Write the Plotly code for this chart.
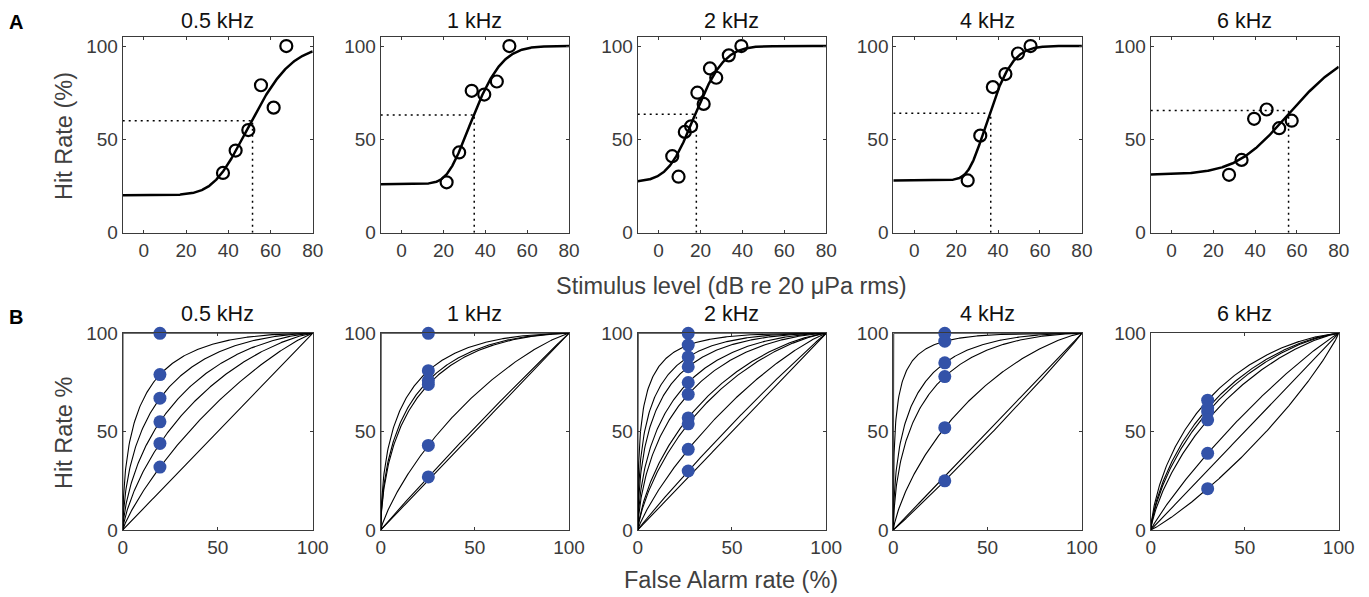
import numpy as np
import plotly.graph_objects as go
from statistics import NormalDist

ND = NormalDist()

W, H = 1369, 597
OFF = 8  # page body offset of the rendered figure

freq_labels = ["0.5 kHz", "1 kHz", "2 kHz", "4 kHz", "6 kHz"]

# ---------- Panel A: psychometric data (stimulus level dB, hit rate %) ----------
levels_05 = [37.5, 43.5, 49.5, 55.5, 61.5, 67.5]
hits_05 = [32, 44, 55, 79, 67, 100]
levels_1 = [21.5, 27.5, 33.5, 39.5, 45.5, 51.5]
hits_1 = [27, 43, 76, 74, 81, 100]
levels_2 = [6.5, 9.5, 12.5, 15.5, 18.5, 21.5, 24.5, 27.5, 33.5, 39.5]
hits_2 = [41, 30, 54, 57, 75, 69, 88, 83, 95, 100]
levels_4 = [25.5, 31.5, 37.5, 43.5, 49.5, 55.5]
hits_4 = [28, 52, 78, 85, 96, 100]
levels_6 = [27.5, 33.5, 39.5, 45.5, 51.5, 57.5]
hits_6 = [31, 39, 61, 66, 56, 60]

# fitted curve parameters
floor_pct = [20, 26, 27, 28, 31]          # false-alarm floor
dprime_slope = [0.057, 0.075, 0.08, 0.092, 0.038]
dprime_onset = [32, 21.5, 6, 25.8, 35]
onset_width = [5, 3, 5, 2.5, 10]
threshold_level = [51.5, 34.7, 18, 36.5, 56]
threshold_hit = [60, 63, 63.5, 64, 65.5]

# ---------- Panel B: ROC data ----------
fa_rates = [19.6, 25.3, 26.8, 27.3, 30.3]
roc_hits_05 = [100, 79, 67, 55, 44, 32]
roc_hits_1 = [100, 81, 76, 74, 43, 27]
roc_hits_2 = [100, 94, 88, 83, 75, 69, 57, 54, 41, 30]
roc_hits_4 = [100, 96, 85, 78, 52, 25]
roc_hits_6 = [66, 62, 60, 56, 39, 21]

levels_all = [levels_05, levels_1, levels_2, levels_4, levels_6]
hits_all = [hits_05, hits_1, hits_2, hits_4, hits_6]
roc_all = [roc_hits_05, roc_hits_1, roc_hits_2, roc_hits_4, roc_hits_6]

# ---------- layout geometry (pixels in the target picture) ----------
col_px = [(122.7, 312.7), (380.7, 569.0), (637.7, 826.2), (893.3, 1081.9), (1150.7, 1338.7)]
top_px = (36.7, 232.7)
bot_px = (333.3, 530.0)


def fx(x):
    return (x - OFF) / W


def fy(y):
    return 1 - (y - OFF) / H


cdf = np.vectorize(ND.cdf)
inv = np.vectorize(ND.inv_cdf)

AX = "#3a3a3a"
FONT = "Liberation Sans, Arial, Helvetica, sans-serif"

fig = go.Figure()
layout = dict(
    width=W, height=H,
    margin=dict(l=0, r=0, t=0, b=0, autoexpand=False),
    paper_bgcolor="white", plot_bgcolor="white",
    showlegend=False,
    font=dict(family=FONT, color=AX),
)


def axis_common():
    return dict(
        showline=True, mirror="ticks", linecolor=AX, linewidth=1,
        ticks="inside", ticklen=3, tickcolor=AX, tickwidth=1,
        showgrid=False, zeroline=False, automargin=False,
        tickfont=dict(family=FONT, size=19, color=AX),
        fixedrange=True,
    )


annotations = []

for i in range(5):
    # ---- top row ----
    n = i + 1
    xa = f"xaxis{n}" if n > 1 else "xaxis"
    ya = f"yaxis{n}" if n > 1 else "yaxis"
    xr = f"x{n}" if n > 1 else "x"
    yr = f"y{n}" if n > 1 else "y"
    layout[xa] = dict(axis_common(), domain=[fx(col_px[i][0]), fx(col_px[i][1])],
                      range=[-10, 80], tickvals=[0, 20, 40, 60, 80], anchor=yr)
    layout[ya] = dict(axis_common(), domain=[fy(top_px[1]), fy(top_px[0])],
                      range=[0, 105], tickvals=[0, 50, 100], anchor=xr)

    xs = np.linspace(-10, 80, 400)
    zfa = ND.inv_cdf(floor_pct[i] / 100)
    s = onset_width[i]
    d = dprime_slope[i] * s * np.logaddexp(0, (xs - dprime_onset[i]) / s)
    curve = 100 * cdf(zfa + d)

    tx, ty = threshold_level[i], threshold_hit[i]
    fig.add_trace(go.Scatter(x=[-10, tx], y=[ty, ty], xaxis=xr, yaxis=yr, mode="lines",
                             line=dict(color="black", width=1.5, dash="2px,4px"), hoverinfo="skip"))
    fig.add_trace(go.Scatter(x=[tx, tx], y=[0, ty], xaxis=xr, yaxis=yr, mode="lines",
                             line=dict(color="black", width=1.5, dash="2px,4px"), hoverinfo="skip"))
    fig.add_trace(go.Scatter(x=xs, y=curve, xaxis=xr, yaxis=yr, mode="lines",
                             line=dict(color="black", width=2.5), hoverinfo="skip"))
    fig.add_trace(go.Scatter(x=levels_all[i], y=hits_all[i], xaxis=xr, yaxis=yr, mode="markers",
                             cliponaxis=False,
                             marker=dict(symbol="circle-open", size=12, color="black",
                                         line=dict(width=2.2, color="black"))))

    annotations.append(dict(text=freq_labels[i], x=fx((col_px[i][0] + col_px[i][1]) / 2),
                            y=fy(21), xref="paper", yref="paper", showarrow=False,
                            xanchor="center", yanchor="middle", borderpad=0,
                            font=dict(family=FONT, size=21.5, color="#111111")))

    # ---- bottom row ----
    m = i + 6
    xa = f"xaxis{m}"
    ya = f"yaxis{m}"
    xr = f"x{m}"
    yr = f"y{m}"
    layout[xa] = dict(axis_common(), domain=[fx(col_px[i][0]), fx(col_px[i][1])],
                      range=[0, 100], tickvals=[0, 50, 100], anchor=yr)
    layout[ya] = dict(axis_common(), domain=[fy(bot_px[1]), fy(bot_px[0])],
                      range=[0, 100], tickvals=[0, 50, 100], anchor=xr)

    fa = fa_rates[i]
    zfa_b = ND.inv_cdf(fa / 100)
    F = np.concatenate([np.geomspace(1e-12, 0.02, 200), np.linspace(0.02, 0.999999, 300)])
    zF = inv(F)
    dps = [0.0]
    for h in roc_all[i]:
        hc = min(max(h, 0.01), 100 - 1e-8)
        dps.append(ND.inv_cdf(hc / 100) - zfa_b)
    for dp in dps:
        hv = 100 * cdf(dp + zF)
        xv = np.concatenate([[0], 100 * F, [100]])
        yv = np.concatenate([[0], hv, [100]])
        fig.add_trace(go.Scatter(x=xv, y=yv, xaxis=xr, yaxis=yr, mode="lines",
                                 line=dict(color="black", width=1.1), hoverinfo="skip"))
    fig.add_trace(go.Scatter(x=[fa] * len(roc_all[i]), y=roc_all[i], xaxis=xr, yaxis=yr,
                             mode="markers", cliponaxis=False,
                             marker=dict(symbol="circle", size=13, color="#3352a8",
                                         line=dict(width=0))))

    annotations.append(dict(text=freq_labels[i], x=fx((col_px[i][0] + col_px[i][1]) / 2),
                            y=fy(314), xref="paper", yref="paper", showarrow=False,
                            xanchor="center", yanchor="middle", borderpad=0,
                            font=dict(family=FONT, size=21.5, color="#111111")))

# axis titles and panel letters
annotations += [
    dict(text="Hit Rate (%)", x=fx(64), y=fy(136), textangle=-90),
    dict(text="Hit Rate %", x=fx(64), y=fy(433), textangle=-90),
    dict(text="Stimulus level (dB re 20 μPa rms)", x=fx(731), y=fy(286)),
    dict(text="False Alarm rate (%)", x=fx(731), y=fy(580)),
]
for a in annotations[-4:]:
    a.update(xref="paper", yref="paper", showarrow=False, xanchor="center", yanchor="middle",
             borderpad=0, font=dict(family=FONT, size=23.5, color="#404040"))
annotations += [
    dict(text="<b>A</b>", x=fx(16), y=fy(22), xref="paper", yref="paper", showarrow=False,
         xanchor="center", yanchor="middle", borderpad=0,
         font=dict(family=FONT, size=20, color="black")),
    dict(text="<b>B</b>", x=fx(16), y=fy(317), xref="paper", yref="paper", showarrow=False,
         xanchor="center", yanchor="middle", borderpad=0,
         font=dict(family=FONT, size=20, color="black")),
]
layout["annotations"] = annotations

fig.update_layout(**layout)
fig.write_html("out.html")
